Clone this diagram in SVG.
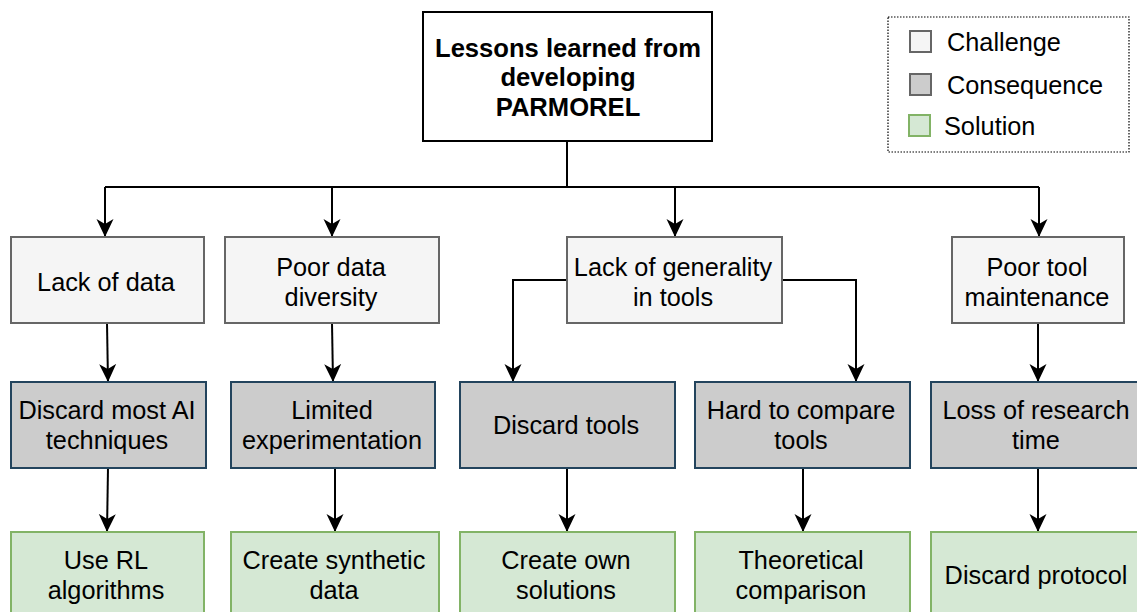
<svg xmlns="http://www.w3.org/2000/svg" width="1137" height="612" viewBox="0 0 1137 612">
<defs>
<marker id="arr" markerUnits="userSpaceOnUse" viewBox="0 0 18 18" refX="18" refY="9" markerWidth="18" markerHeight="18" orient="auto">
<path d="M0,0.5 L18,9 L0,17.5 L5,9 Z" fill="#000"/>
</marker>
<style>
text{font-family:"Liberation Sans",Arial,sans-serif;font-size:25.3px;fill:#000;text-anchor:middle}
.t{font-weight:bold;font-size:25.6px}
.ch{fill:#f5f5f5;stroke:#666666;stroke-width:2}
.co{fill:#cccccc;stroke:#23445d;stroke-width:2}
.so{fill:#d5e8d4;stroke:#82b366;stroke-width:2}
.lg{text-anchor:start}
.e{fill:none;stroke:#000;stroke-width:2;marker-end:url(#arr)}
.l{fill:none;stroke:#000;stroke-width:2}
</style>
</defs>
<rect width="1137" height="612" fill="#fff"/>

<g id="legend">
<rect x="888" y="17" width="241" height="135" fill="#fff" stroke="#000" stroke-width="1.2" stroke-dasharray="1.5,1.5"/>
<rect x="910" y="31" width="21" height="21" class="ch"/>
<text x="947" y="51" class="lg">Challenge</text>
<rect x="910" y="74" width="21" height="21" class="co" style="stroke:#666666"/>
<text x="947" y="94" class="lg">Consequence</text>
<rect x="909" y="115" width="21" height="21" class="so"/>
<text x="944" y="135" class="lg">Solution</text>
</g>

<g id="root">
<rect x="423" y="12" width="289" height="129" fill="#fff" stroke="#000" stroke-width="2"/>
<text x="568" y="57" class="t">Lessons learned from</text>
<text x="568" y="86" class="t">developing</text>
<text x="568" y="116" class="t">PARMOREL</text>
</g>

<g id="connectors">
<path class="l" d="M567,141 V187 M105,187 H1039"/>
<path class="e" d="M105,187 V237"/>
<path class="e" d="M332,187 V237"/>
<path class="e" d="M675,187 V237"/>
<path class="e" d="M1039,187 V237"/>
<path class="e" d="M107,323 L108,382"/>
<path class="e" d="M332,323 L333,382"/>
<path class="e" d="M567,280 H513 V382"/>
<path class="e" d="M782,280 H856 V382"/>
<path class="e" d="M1038,323 V382"/>
<path class="e" d="M108,468 L107,532"/>
<path class="e" d="M335,468 V532"/>
<path class="e" d="M567,468 V532"/>
<path class="e" d="M803,468 V532"/>
<path class="e" d="M1038,468 V532"/>
</g>

<g id="lack-of-data">
<rect x="11" y="237" width="193" height="86" class="ch"/>
<text x="106" y="291">Lack of data</text>
</g>
<g id="poor-data-diversity">
<rect x="225" y="237" width="214" height="86" class="ch"/>
<text x="331" y="276">Poor data</text>
<text x="331" y="306">diversity</text>
</g>
<g id="lack-of-generality">
<rect x="567" y="237" width="215" height="86" class="ch"/>
<text x="673" y="276">Lack of generality</text>
<text x="673" y="306">in tools</text>
</g>
<g id="poor-tool-maintenance">
<rect x="952" y="237" width="172" height="86" class="ch"/>
<text x="1037" y="276">Poor tool</text>
<text x="1037" y="306">maintenance</text>
</g>

<g id="discard-ai">
<rect x="11" y="382" width="195" height="86" class="co"/>
<text x="107" y="419">Discard most AI</text>
<text x="107" y="449">techniques</text>
</g>
<g id="limited-experimentation">
<rect x="231" y="382" width="204" height="86" class="co"/>
<text x="332" y="419">Limited</text>
<text x="332" y="449">experimentation</text>
</g>
<g id="discard-tools">
<rect x="460" y="382" width="215" height="86" class="co"/>
<text x="566" y="434">Discard tools</text>
</g>
<g id="hard-to-compare">
<rect x="695" y="382" width="215" height="86" class="co"/>
<text x="801" y="419">Hard to compare</text>
<text x="801" y="449">tools</text>
</g>
<g id="loss-of-research-time">
<rect x="931" y="382" width="215" height="86" class="co"/>
<text x="1036" y="419">Loss of research</text>
<text x="1036" y="449">time</text>
</g>

<g id="use-rl">
<rect x="11" y="532" width="193" height="86" class="so"/>
<text x="106" y="569">Use RL</text>
<text x="106" y="599">algorithms</text>
</g>
<g id="create-synthetic">
<rect x="231" y="532" width="208" height="86" class="so"/>
<text x="334" y="569">Create synthetic</text>
<text x="334" y="599">data</text>
</g>
<g id="create-own">
<rect x="460" y="532" width="215" height="86" class="so"/>
<text x="566" y="569">Create own</text>
<text x="566" y="599">solutions</text>
</g>
<g id="theoretical-comparison">
<rect x="695" y="532" width="215" height="86" class="so"/>
<text x="801" y="569">Theoretical</text>
<text x="801" y="599">comparison</text>
</g>
<g id="discard-protocol">
<rect x="931" y="532" width="215" height="86" class="so"/>
<text x="1036" y="584">Discard protocol</text>
</g>
</svg>
